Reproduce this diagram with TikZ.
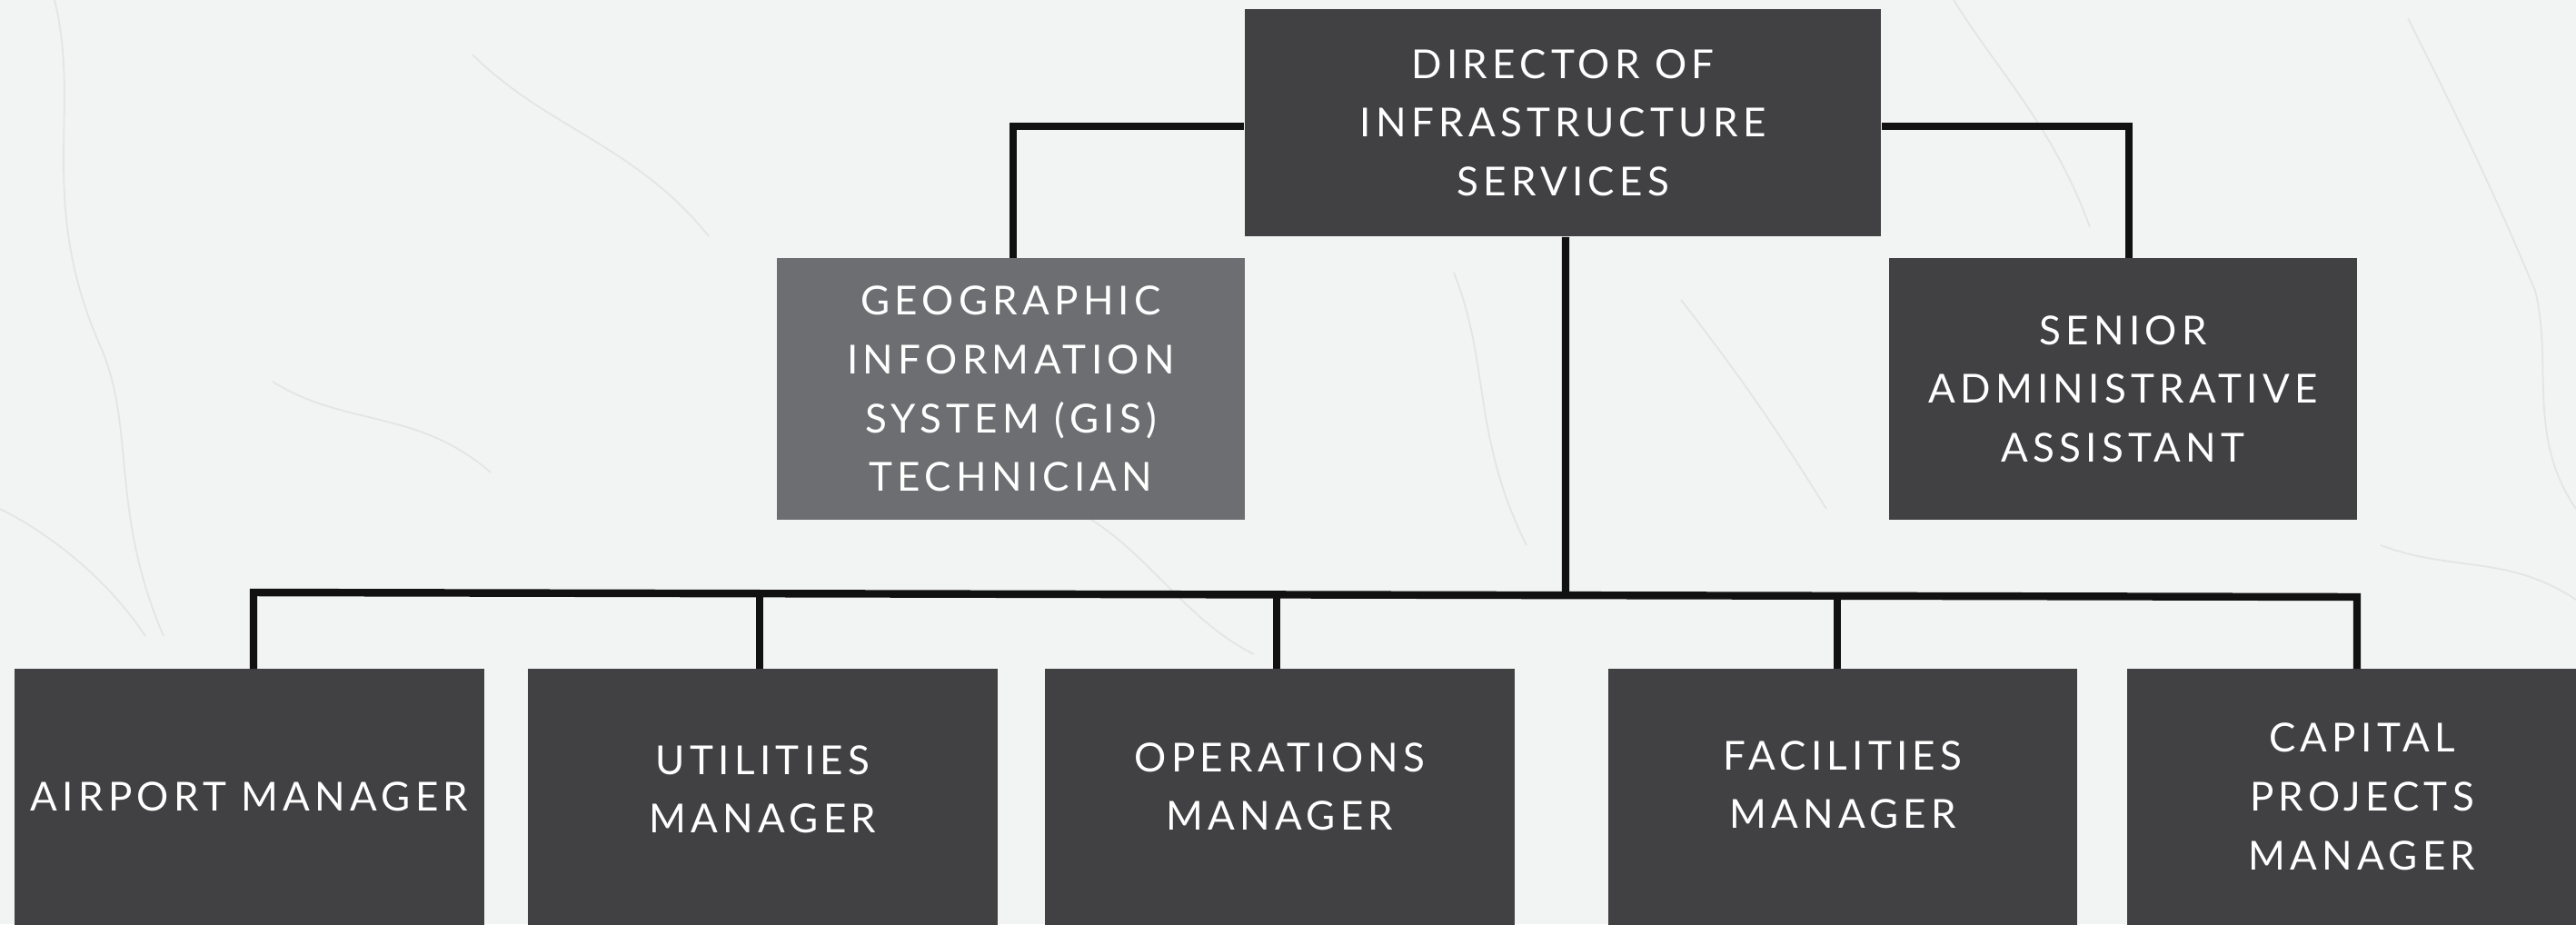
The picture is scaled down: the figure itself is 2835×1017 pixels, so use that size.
\documentclass[tikz,border=0pt]{standalone}
\usepackage{fontspec}
\usetikzlibrary{calc,backgrounds}
\setmainfont{Lato}[LetterSpace=12]
\definecolor{bgc}{HTML}{F2F3F3}
\definecolor{crack}{HTML}{E2E5E6}
\definecolor{boxdark}{HTML}{414143}
\definecolor{boxgray}{HTML}{6D6E71}
\definecolor{linec}{HTML}{111111}
\begin{document}
\begin{tikzpicture}[x=0.01cm,y=-0.01cm,
  box/.style={fill=boxdark, text=white, inner sep=0pt, align=center,
    font=\fontsize{12.5}{18.4}\selectfont, minimum width=5.15cm},
  lowbox/.style={box, fill=none, anchor=north},
  conn/.style={draw=linec, line width=2.4pt}]
\useasboundingbox (0,0) rectangle (2835,1017);
% nodes
\node[box, minimum width=7cm, minimum height=2.5cm] (dir) at (1720,135)
  {DIRECTOR OF\\INFRASTRUCTURE\\SERVICES};
\node[box, fill=boxgray, minimum height=2.87cm] (gis) at (1112.5,428)
  {GEOGRAPHIC\\INFORMATION\\SYSTEM (GIS)\\TECHNICIAN};
\node[box, minimum height=2.87cm] (sen) at (2336.5,428)
  {SENIOR\\ADMINISTRATIVE\\ASSISTANT};
\node[lowbox, minimum height=2.80cm] (air) at (274.5,736) {AIRPORT MANAGER};
\node[lowbox, minimum height=2.64cm] (uti) at (839.5,736) {UTILITIES\\MANAGER};
\node[lowbox, minimum height=2.58cm] (ops) at (1408.5,736) {OPERATIONS\\MANAGER};
\node[lowbox, minimum height=2.54cm] (fac) at (2028,736) {FACILITIES\\MANAGER};
\node[lowbox, minimum height=2.80cm] (cap) at (2599.5,736) {CAPITAL\\PROJECTS\\MANAGER};
\begin{pgfonlayer}{background}
\fill[bgc] (0,0) rectangle (2835,1017);
% faint marble texture
\begin{scope}[crack, line width=0.5pt]
\draw (60,0) .. controls (90,120) and (40,220) .. (110,380) .. controls (150,470) and (120,560) .. (180,700);
\draw (520,60) .. controls (600,140) and (700,160) .. (780,260);
\draw (300,420) .. controls (380,470) and (460,450) .. (540,520);
\draw (1180,560) .. controls (1260,600) and (1300,680) .. (1380,720);
\draw (1600,300) .. controls (1640,400) and (1620,480) .. (1680,600);
\draw (2150,0) .. controls (2200,80) and (2260,140) .. (2300,250);
\draw (2650,20) .. controls (2700,120) and (2740,200) .. (2790,320) .. controls (2810,400) and (2780,480) .. (2835,560);
\draw (1850,330) .. controls (1920,420) and (1960,480) .. (2010,560);
\draw (2620,600) .. controls (2700,630) and (2760,610) .. (2835,660);
\draw (0,560) .. controls (60,590) and (120,640) .. (160,700);
\end{scope}
\foreach \n in {air,uti,ops,fac,cap}
  \fill[boxdark] (\n.north west) rectangle ([yshift=-1cm]\n.south east);
\end{pgfonlayer}
% connectors
\coordinate (bus) at (1723,655);
\draw[conn] ([yshift=-0.04cm]dir.west) -| ([xshift=0.025cm]gis.north);
\draw[conn] ([yshift=-0.04cm]dir.east) -| ([xshift=0.065cm]sen.north);
\draw[conn] ([xshift=0.03cm]dir.south) -- (bus);
\draw[conn, line join=miter] ([xshift=0.045cm]air.north) -- ++(0,-84) coordinate (busL)
  -- ($(cap.north)+(-5.5,-79)$) coordinate (busR) -- ([xshift=-0.055cm]cap.north);
\draw[conn] ([xshift=-0.035cm]uti.north) -- ++(0,-82.8);
\draw[conn] ([xshift=-0.035cm]ops.north) -- ++(0,-81.6);
\draw[conn] ([xshift=-0.06cm]fac.north) -- ++(0,-80.2);
\end{tikzpicture}
\end{document}
